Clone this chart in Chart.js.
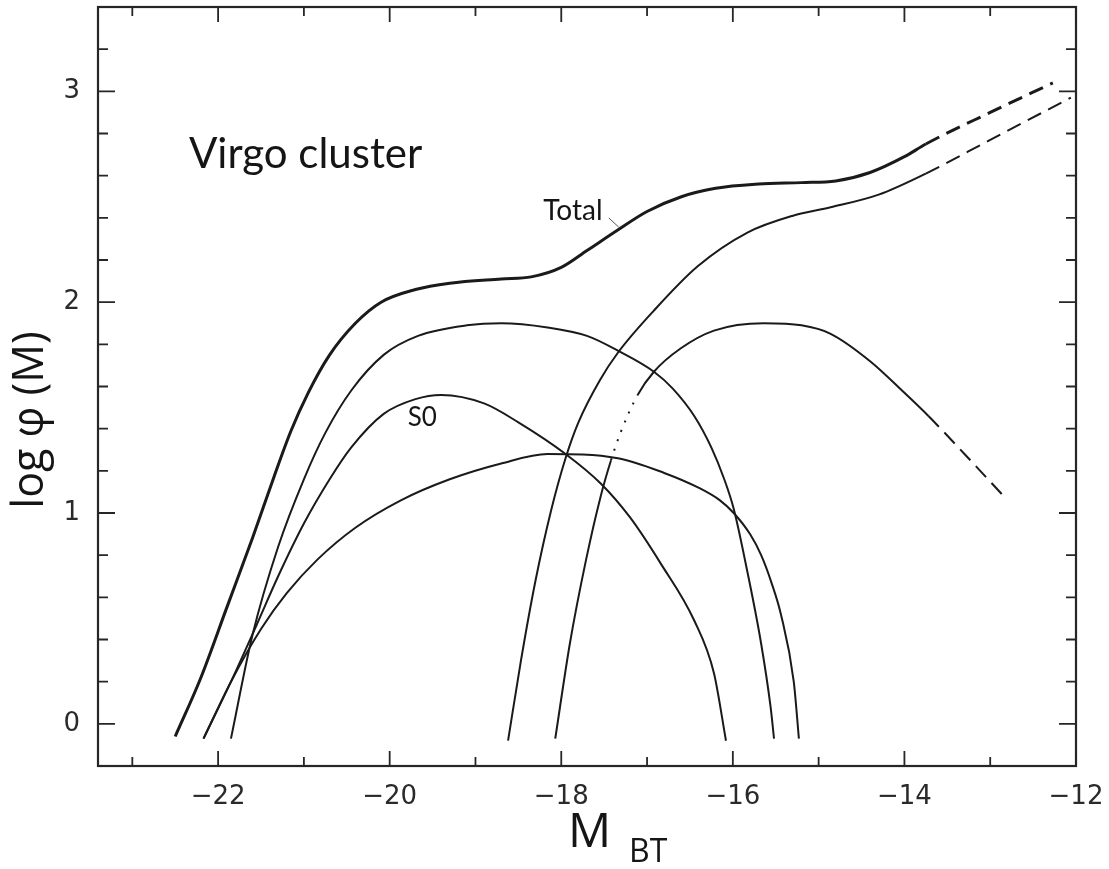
<!DOCTYPE html>
<html>
<head>
<meta charset="utf-8">
<script src="https://cdn.jsdelivr.net/npm/chart.js@4.4.1/dist/chart.umd.min.js"></script>
<style>
html, body { margin: 0; padding: 0; background: #fff; }
#wrap { width: 1109px; height: 869px; }
</style>
</head>
<body>
<div id="wrap"><canvas id="lf"></canvas></div>
<script>
// Virgo cluster luminosity function by type
var xTicks = [-22, -20, -18, -16, -14, -12];
var yTicks = [0, 1, 2, 3];

var totalM   = [-22.5, -22.2, -21.9, -21.6, -21.35, -21.15, -20.95, -20.7, -20.4, -20.1, -19.7, -19.3, -18.7, -18.35, -18.0, -17.7, -17.35, -17.0, -16.6, -16.2, -15.7, -15.2, -14.8, -14.4, -14.0, -13.75, -13.0, -12.27];
var totalPhi = [-0.06, 0.22, 0.55, 0.88, 1.17, 1.39, 1.57, 1.75, 1.9, 2.0, 2.06, 2.09, 2.11, 2.12, 2.165, 2.245, 2.34, 2.43, 2.5, 2.54, 2.56, 2.567, 2.575, 2.615, 2.69, 2.75, 2.9, 3.04];

var dwarfM   = [-18.62, -18.47, -18.3, -18.12, -17.95, -17.8, -17.55, -17.34, -16.92, -16.41, -15.83, -15.3, -14.86, -14.3, -13.75, -13.0, -12.06];
var dwarfPhi = [-0.08, 0.3, 0.68, 1.01, 1.26, 1.43, 1.63, 1.76, 1.96, 2.17, 2.33, 2.41, 2.45, 2.51, 2.61, 2.77, 2.97];

var irrM   = [-18.07, -17.9, -17.71, -17.54, -17.42, -17.31, -17.11, -16.92, -16.61, -16.22, -15.64, -15.2, -14.86, -14.4, -14.0, -13.72, -13.3, -12.82];
var irrPhi = [-0.07, 0.38, 0.78, 1.08, 1.25, 1.38, 1.56, 1.67, 1.78, 1.865, 1.9, 1.89, 1.85, 1.72, 1.57, 1.46, 1.28, 1.07];

var spiralM   = [-21.85, -21.6, -21.3, -21.0, -20.75, -20.45, -20.07, -19.67, -19.1, -18.7, -18.16, -17.7, -17.34, -16.92, -16.7, -16.45, -16.25, -16.1, -15.99, -15.83, -15.67, -15.56, -15.52];
var spiralPhi = [-0.07, 0.42, 0.84, 1.16, 1.38, 1.58, 1.75, 1.84, 1.89, 1.9, 1.88, 1.84, 1.77, 1.67, 1.59, 1.46, 1.31, 1.16, 1.02, 0.72, 0.38, 0.08, -0.07];

var s0M   = [-22.17, -21.85, -21.55, -21.3, -21.0, -20.7, -20.45, -20.07, -19.7, -19.4, -18.9, -18.5, -17.95, -17.54, -17.2, -16.84, -16.45, -16.22, -16.08];
var s0Phi = [-0.07, 0.2, 0.47, 0.7, 0.95, 1.16, 1.31, 1.47, 1.54, 1.56, 1.52, 1.43, 1.28, 1.14, 0.98, 0.76, 0.49, 0.24, -0.08];

var ellM   = [-22.17, -21.85, -21.5, -21.2, -20.84, -20.4, -19.87, -19.3, -18.7, -18.16, -17.34, -16.8, -16.4, -16.15, -15.99, -15.8, -15.67, -15.55, -15.44, -15.29, -15.23];
var ellPhi = [-0.07, 0.2, 0.45, 0.62, 0.78, 0.93, 1.06, 1.16, 1.235, 1.28, 1.26, 1.19, 1.12, 1.06, 1.0, 0.9, 0.8, 0.67, 0.52, 0.2, -0.07];

function pts(xs, ys) {
  return xs.map(function (x, i) { return { x: x, y: ys[i] }; });
}

// dashed beyond dashFrom, dotted between dot[0] and dot[1] (print gaps)
function line(label, xs, ys, width, dashFrom, dot) {
  return {
    label: label,
    data: pts(xs, ys),
    showLine: true,
    borderColor: '#1a1a1a',
    borderWidth: width,
    pointRadius: 0,
    cubicInterpolationMode: 'monotone',
    segment: {
      borderDash: function (ctx) {
        var x0 = ctx.p0.parsed.x;
        if (dashFrom !== null && x0 >= dashFrom - 1e-6) return [15, 8];
        if (dot && x0 >= dot[0] - 1e-6 && x0 < dot[1] - 1e-6) return [2, 8];
        return undefined;
      }
    }
  };
}

var frame = {
  id: 'frame',
  afterDatasetsDraw: function (chart) {
    var c = chart.ctx, a = chart.chartArea;
    var xs = chart.scales.x, ys = chart.scales.y;
    c.save();
    c.strokeStyle = '#262626';
    c.lineWidth = 2.2;
    c.strokeRect(a.left, a.top, a.right - a.left, a.bottom - a.top);
    c.lineWidth = 1.8;
    c.beginPath();
    for (var m = -23; m <= -12; m++) {
      var px = xs.getPixelForValue(m);
      var len = xTicks.indexOf(m) >= 0 ? 15 : 9;
      c.moveTo(px, a.bottom); c.lineTo(px, a.bottom - len);
      c.moveTo(px, a.top); c.lineTo(px, a.top + len);
    }
    for (var k = -1; k <= 17; k++) {
      var py = ys.getPixelForValue(k / 5);
      var l2 = (k % 5 === 0) ? 17 : 10;
      c.moveTo(a.left, py); c.lineTo(a.left + l2, py);
      c.moveTo(a.right, py); c.lineTo(a.right - l2, py);
    }
    c.stroke();

    c.fillStyle = '#151515';
    c.textBaseline = 'alphabetic';
    c.textAlign = 'left';
    c.font = '42px Lato';
    c.fillText('Virgo cluster', xs.getPixelForValue(-22.34), ys.getPixelForValue(2.634));
    c.font = '28px Lato';
    c.fillText('Total', xs.getPixelForValue(-18.21), ys.getPixelForValue(2.39));
    c.font = '26px Lato';
    c.fillText('S0', xs.getPixelForValue(-19.79), ys.getPixelForValue(1.412));
    c.lineWidth = 1;
    c.strokeStyle = '#555';
    c.beginPath();
    c.moveTo(xs.getPixelForValue(-17.445), ys.getPixelForValue(2.399));
    c.lineTo(xs.getPixelForValue(-17.33), ys.getPixelForValue(2.356));
    c.stroke();

    // axis titles
    c.font = '48px "Open Sans"';
    c.fillText('M', 568, 847);
    c.font = '32px "Open Sans"';
    c.fillText('BT', 629, 862);
    c.translate(31, 420);
    c.rotate(-Math.PI / 2);
    c.textAlign = 'center';
    c.textBaseline = 'middle';
    c.font = '43px "Open Sans"';
    c.fillText('log \u03c6 (M)', 0, 0);
    c.restore();
  }
};

function noPad(s) {
  s.paddingTop = 0; s.paddingBottom = 0; s.paddingLeft = 0; s.paddingRight = 0;
}

var ctx = document.getElementById('lf').getContext('2d');
var chart = new Chart(ctx, {
  type: 'scatter',
  data: {
    datasets: [
      line('Total', totalM, totalPhi, 3, -13.75, null),
      line('dE', dwarfM, dwarfPhi, 2, -13.75, null),
      line('Im', irrM, irrPhi, 2, -13.72, [-17.42, -17.11]),
      line('Spiral', spiralM, spiralPhi, 2, null, null),
      line('S0', s0M, s0Phi, 2, null, null),
      line('E', ellM, ellPhi, 2, null, null)
    ]
  },
  options: {
    responsive: true,
    maintainAspectRatio: false,
    animation: false,
    layout: { padding: { top: 7, right: 33, left: 0, bottom: 0 } },
    plugins: {
      legend: { display: false },
      tooltip: { enabled: false }
    },
    scales: {
      x: {
        type: 'linear',
        min: -23.4,
        max: -12,
        afterBuildTicks: function (s) { s.ticks = xTicks.map(function (v) { return { value: v }; }); },
        afterFit: function (s) { s.height = 103; noPad(s); },
        grid: { display: false, drawTicks: false },
        border: { display: false },
        ticks: {
          padding: 16,
          color: '#2a2a2a',
          font: { family: 'DejaVu Sans', size: 26 },
          maxRotation: 0,
          callback: function (v) { return String(v).replace('-', '\u2212'); }
        }
      },
      y: {
        type: 'linear',
        min: -0.2,
        max: 3.4,
        afterBuildTicks: function (s) { s.ticks = yTicks.map(function (v) { return { value: v }; }); },
        afterFit: function (s) { s.width = 98; noPad(s); },
        grid: { display: false, drawTicks: false },
        border: { display: false },
        ticks: {
          padding: 18,
          color: '#2a2a2a',
          font: { family: 'DejaVu Sans', size: 26 }
        }
      }
    }
  },
  plugins: [frame]
});
</script>
</body>
</html>
